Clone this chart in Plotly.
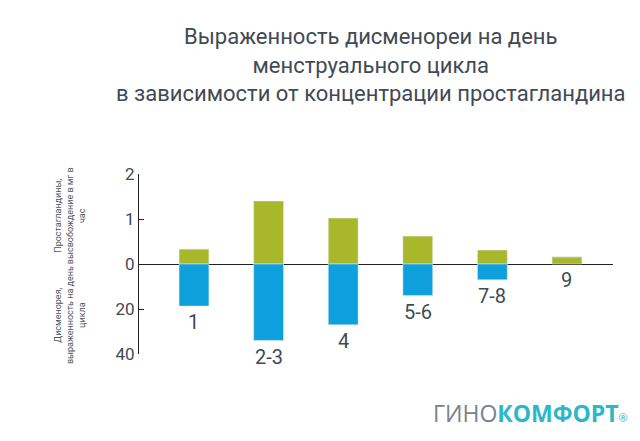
import plotly.graph_objects as go

days = ["1", "2-3", "4", "5-6", "7-8", "9"]
prostaglandins = [0.33, 1.40, 1.02, 0.62, 0.31, 0.16]   # мг в час
dysmenorrhea = [18.7, 34.0, 27.0, 14.0, 7.0, 0.0]       # выраженность

_GREEN = "#a9b82b"
_BLUE = "#0ea0dc"
_DARK = "#3f4a54"

x = list(range(len(days)))
neg = [-d / 20 for d in dysmenorrhea]

fig = go.Figure()
fig.add_trace(go.Bar(x=x, y=prostaglandins, marker_color=_GREEN, width=0.4))
fig.add_trace(go.Bar(x=x, y=neg, marker_color=_BLUE, width=0.4))

for xi, lab, n in zip(x, days, neg):
    fig.add_annotation(x=xi, y=n, text=lab, showarrow=False, yanchor="top", yshift=-2,
                       font=dict(size=20, color=_DARK, family="Roboto"))

side = dict(size=9, color="#4a5560", family="Roboto")
fig.add_annotation(xref="paper", yref="paper", x=-0.146, y=0.77, textangle=-90,
                   xanchor="center", yanchor="middle",
                   text="Простагландины,<br>высвобождение в мг в<br>час", showarrow=False, font=side)
fig.add_annotation(xref="paper", yref="paper", x=-0.146, y=0.215, textangle=-90,
                   xanchor="center", yanchor="middle",
                   text="Дисменорея,<br>выраженность на день<br>цикла", showarrow=False, font=side)
fig.add_annotation(xref="paper", yref="paper", x=1.036, y=-0.33, xanchor="right", yanchor="middle",
                   text="<span style='color:#7a8289'>ГИНО</span><b><span style='color:#2ab7c9'>КОМФОРТ</span></b><span style='color:#2ab7c9;font-size:11px'>®</span>",
                   showarrow=False, font=dict(size=23, family="Open Sans"))
fig.add_annotation(xref="paper", yref="paper", x=0.49, y=1.605, xanchor="center", yanchor="middle",
                   text="Выраженность дисменореи на день<br>менструального цикла<br>в зависимости от концентрации простагландина",
                   showarrow=False, font=dict(size=22, color=_DARK, family="Roboto"))

fig.update_layout(
    barmode="relative", showlegend=False,
    width=640, height=441,
    margin=dict(l=131, r=35, t=166, b=95, autoexpand=False),
    paper_bgcolor="white", plot_bgcolor="white",
    xaxis=dict(range=[-0.737, 5.617], showticklabels=False, showgrid=False,
               zeroline=False, showline=False, automargin=False),
    yaxis=dict(range=[-2, 2], tickvals=[2, 1, 0, -1, -2], ticktext=["2", "1", "0", "20", "40"],
               showgrid=False, zeroline=True, zerolinecolor="#222", zerolinewidth=1,
               showline=True, linecolor="#222", ticks="inside", ticklen=5, tickcolor="#222",
               automargin=False, tickfont=dict(size=17, color=_DARK, family="Roboto")),
)

fig.write_html("out.html")
